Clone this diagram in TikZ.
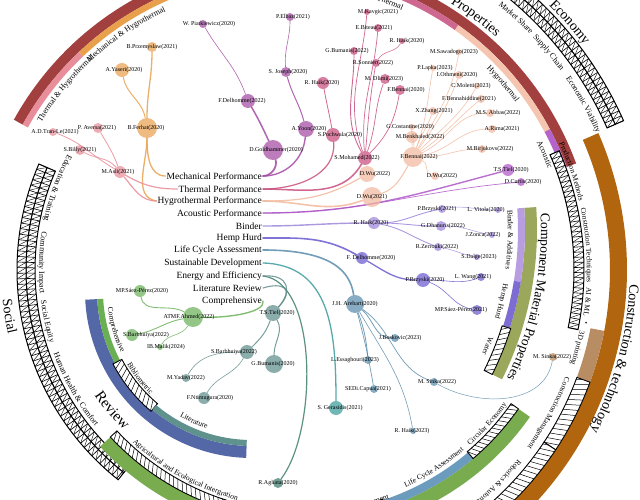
\documentclass[tikz,border=0pt]{standalone}
\usepackage{fontspec}
\setmainfont{Liberation Serif}
\usetikzlibrary{decorations.text}
\pgfdeclarelayer{bg}
\pgfsetlayers{bg,main}
% band colours
\definecolor{pMaroon}{HTML}{A1403E}
\definecolor{pTH}{HTML}{E88E9B}
\definecolor{pMH}{HTML}{E8A04C}
\definecolor{pMech}{HTML}{A8509F}
\definecolor{pTherm}{HTML}{CF6890}
\definecolor{pHyg}{HTML}{F5C5AF}
\definecolor{pAcou}{HTML}{B463CB}
\definecolor{cBrown}{HTML}{B0650E}
\definecolor{cTan}{HTML}{B98D64}
\definecolor{cOlive}{HTML}{9BA85C}
\definecolor{cBindB}{HTML}{B89EE0}
\definecolor{cHempB}{HTML}{7D6DD3}
\definecolor{rBlue}{HTML}{5467A6}
\definecolor{rGreen}{HTML}{6BAF55}
\definecolor{rTeal}{HTML}{5F918D}
\definecolor{eGreen}{HTML}{79AC4F}
\definecolor{eBlue}{HTML}{6B9CBE}
% tree colours
\definecolor{kMech}{HTML}{A44CA4}
\definecolor{kTherm}{HTML}{C94D7D}
\definecolor{kHyg}{HTML}{F2B99E}
\definecolor{kAcou}{HTML}{AF57C8}
\definecolor{kBind}{HTML}{9D86DA}
\definecolor{kHemp}{HTML}{6A5BCF}
\definecolor{kLca}{HTML}{5A8DAC}
\definecolor{kSus}{HTML}{3A9C9A}
\definecolor{kEner}{HTML}{3F7E6E}
\definecolor{kLit}{HTML}{5F8E8B}
\definecolor{kComp}{HTML}{6CB25A}
\definecolor{kMH}{HTML}{E9A24F}
\definecolor{kTH}{HTML}{E88D99}
\definecolor{kBrown}{HTML}{B8895C}
\tikzset{
  ndot/.style={circle,inner sep=0pt,draw=none,fill opacity=0.72},
  lab/.style={font=\fontsize{6}{6}\selectfont,inner sep=0pt,text=black},
  lst/.style={font=\fontsize{9.5}{10}\selectfont,inner sep=1pt,anchor=east,text=black},
  ed/.style={line cap=round,draw opacity=0.85},
}
\newcommand{\ann}[5][]{\path[#1] (#2:#5) arc[start angle=#2,end angle=#3,radius=#5] -- (#3:#4) arc[start angle=#3,end angle=#2,radius=#4] -- cycle;}
\newcommand{\hatchb}[5]{%
  \ann[fill=white]{#1}{#2}{#3}{#4}%
  \begin{scope}
    \clip (#1:#4) arc[start angle=#1,end angle=#2,radius=#4] -- (#2:#3) arc[start angle=#2,end angle=#1,radius=#3] -- cycle;
    \pgfmathsetmacro{\hlo}{min(#1,#2)-#5}%
    \pgfmathsetmacro{\hhi}{max(#1,#2)+#5}%
    \pgfmathsetmacro{\hnx}{\hlo+#5}%
    \foreach \hh in {\hlo,\hnx,...,\hhi}{\draw[line width=0.5pt] (\hh:#3) -- ({\hh+#5}:#4);}
  \end{scope}
  \ann[draw=black,line width=0.9pt]{#1}{#2}{#3}{#4}%
}
\newcommand{\ladder}[5]{%
  \ann[fill=white]{#1}{#2}{#3}{#4}%
  \begin{scope}
    \clip (#1:#4) arc[start angle=#1,end angle=#2,radius=#4] -- (#2:#3) arc[start angle=#2,end angle=#1,radius=#3] -- cycle;
    \pgfmathsetmacro{\hlo}{min(#1,#2)-#5}%
    \pgfmathsetmacro{\hhi}{max(#1,#2)+#5}%
    \pgfmathsetmacro{\hnx}{\hlo+#5}%
    \foreach \hh in {\hlo,\hnx,...,\hhi}{\draw[line width=0.6pt] (\hh:#3) -- (\hh:#4); \draw[line width=0.4pt] (\hh:#3) -- ({\hh+#5}:#4);}
  \end{scope}
  \ann[draw=black,line width=1pt]{#1}{#2}{#3}{#4}%
}
\newcommand{\arctext}[5]{\path[decorate,decoration={text along path,text align=center,text={|\fontsize{#4}{#4}\selectfont|#5}}] (#1:#3) arc[start angle=#1,end angle=#2,radius=#3];}
\newcommand{\nd}[7]{\node[ndot,fill=#5,minimum size=#4*2pt] (#1) at (#2,-#3) {}; \node[lab] (#1-t) at (#6,-#3) {#7};}

\begin{document}
\begin{tikzpicture}[x=1pt,y=1pt]
\useasboundingbox (0,0) rectangle (640,-500);
\begin{pgfonlayer}{bg}
\fill[white] (0,0) rectangle (640,-500);
\end{pgfonlayer}
\clip (0,0) rectangle (640,-500);

% ===== outer groups, centre (285,270) =====
\begin{scope}[shift={(285,-270)}]
  % Properties
  \ann[fill=pMaroon]{151}{20.1}{300}{310}
  \ann[fill=pTH]{151}{133.4}{294}{300}
  \ann[fill=pMH]{133.4}{105}{294}{300}
  \ann[fill=pMech]{105}{78}{294}{300}
  \ann[fill=pTherm]{78}{54.7}{294}{300}
  \ann[fill=pHyg]{54.7}{28}{294}{300}
  \ann[fill=pAcou]{28}{20.1}{294}{300}
  \arctext{153}{128}{285}{8}{Thermal {\&} Hygrothermal}
  \arctext{138}{110}{285}{8}{Mechanical {\&} Hygrothermal}
  \arctext{76}{61}{285}{8}{Thermal}
  \arctext{49}{32}{285}{8}{Hygrothermal}
  \arctext{31}{17}{282}{8}{Acoustic}
  \arctext{63}{43}{314}{14}{Properties}
  % Economy
  \ladder{75}{23.8}{352}{361}{0.85}
  \ladder{75}{23.8}{361}{370}{0.85}
  \arctext{55}{40}{340}{8}{Market Share}
  \arctext{47}{32}{340}{8}{Supply Chain}
  \arctext{38}{20}{340}{8}{Economic Viability}
  \arctext{49}{33}{374}{14}{Economy}
  % Construction & technology
  \ann[fill=cBrown]{23.6}{-80}{325}{342}
  \ladder{23.5}{-11.5}{289}{299}{1}
  \ann[fill=cTan]{-10.8}{-20.2}{311}{325}
  \hatchb{-20.2}{-33.6}{311}{325}{1}
  \hatchb{-33.6}{-80}{311}{325}{1}
  \arctext{30}{8}{302}{7.5}{Production Methods}
  \arctext{14.7}{-5.3}{302}{7.5}{Construction Techniques}
  \arctext{0}{-12}{302}{7.5}{AI {\&} ML}
  \node[font=\fontsize{7}{7}\selectfont,rotate=-100,inner sep=0pt] (bul) at (-10:305) {•};
  \arctext{-7.5}{-22.5}{301}{7.5}{3D printing}
  \arctext{-17}{-40}{300}{7.5}{Construction Management}
  \arctext{-34}{-58}{300}{7.5}{Robotics {\&} Automation}
  \arctext{3}{-33}{345}{14}{Construction {\&} technology}
  % Social
  \ladder{156.7}{231.5}{250}{259}{1.2}
  \ladder{156.7}{231.5}{259}{268}{1.2}
  \arctext{148}{172.6}{246}{8}{Education {\&} Training}
  \arctext{168}{188.6}{246}{8}{Community Impact}
  \arctext{184}{200.4}{246}{8}{Social Equity}
  \arctext{196}{223.4}{246}{8}{Human Health {\&} Comfort}
  \arctext{180}{199}{284}{14}{Social}
\end{scope}

% ===== Review, centre (252,291) =====
\begin{scope}[shift={(252,-291)}]
  \ann[fill=rBlue]{183}{268}{155}{167}
  \ann[fill=rGreen]{183}{207.7}{149}{155}
  \hatchb{207.7}{230}{147}{157}{2}
  \ann[fill=rTeal]{230}{268}{149}{155}
  \arctext{182}{210}{145}{7.5}{Comprehensive}
  \arctext{206}{230}{145}{7.5}{Bibliometric}
  \arctext{235}{257}{145}{7.5}{Literature}
  \arctext{208}{233}{189}{15}{Review}
\end{scope}

% ===== Component Material Properties, centre (200,230) =====
\begin{scope}[shift={(200,-230)}]
  \ann[fill=cOlive]{3.9}{-26.3}{325}{337}
  \ann[fill=cBindB]{3.9}{-9.2}{318}{325}
  \ann[fill=cHempB]{-9.2}{-17.6}{318}{325}
  \hatchb{-17.6}{-26.3}{317}{326}{1}
  \arctext{7}{-10.6}{308}{7.5}{Binder {\&} Additives}
  \arctext{-7}{-19.6}{308}{7.5}{Hemp Hurd}
  \arctext{-18}{-26}{308}{7.5}{Water}
  \arctext{8}{-31}{341}{13.5}{Component Material Properties}
\end{scope}

% ===== bottom group, centre (303,258) =====
\begin{scope}[shift={(303,-258)}]
  \ann[fill=eGreen]{222.9}{325}{263}{277}
  \hatchb{222.9}{262}{254}{263}{1.1}
  \hatchb{262}{288.3}{254}{263}{1.1}
  \ann[fill=eBlue]{288.3}{310.3}{255}{263}
  \hatchb{310.3}{325}{254}{263}{1.1}
  \arctext{218}{264}{251}{7.5}{Agricultural and Ecological Intergration}
  \arctext{270}{296}{256}{7.5}{Waste Management}
  \arctext{290}{314}{251}{7.5}{Life Cycle Assessment}
  \arctext{309}{327}{251}{7.5}{Circular Economy}
\end{scope}

% ===== central label list =====
\node[lst] (Lmech) at (263,-176) {Mechanical Performance};
\node[lst] (Ltherm) at (263,-189) {Thermal Performance};
\node[lst] (Lhyg) at (263,-201) {Hygrothermal Performance};
\node[lst] (Lacou) at (263,-213) {Acoustic Performance};
\node[lst] (Lbind) at (263,-226) {Binder};
\node[lst] (Lhemp) at (263,-238) {Hemp Hurd};
\node[lst] (Llca) at (263,-250) {Life Cycle Assessment};
\node[lst] (Lsus) at (263,-263) {Sustainable Development};
\node[lst] (Lener) at (263,-276) {Energy and Efficiency};
\node[lst] (Llit) at (263,-288) {Literature Review};
\node[lst] (Lcomp) at (263,-301) {Comprehensive};

% ===== tree nodes =====
\nd{Goldh}{273}{150}{10}{kMech}{276}{D.Goldhammer(2020)}
\nd{FDelA}{248}{101}{7}{kMech}{242}{F.Delhomme(2022)}
\nd{Piat}{203}{24}{4}{kMech}{209}{W. Piatkiewicz(2020)}
\nd{Yoon}{306}{129}{8}{kMech}{309}{A.Yoon(2020)}
\nd{Joseph}{286}{72}{5}{kMech}{288}{S. Joseph(2020)}
\nd{Elbaz}{290}{17}{4}{kMech}{293}{P.Elbaz(2021)}
\nd{SMoh}{365}{158}{7}{kTherm}{357}{S.Mohamed(2022)}
\nd{Pochw}{333}{135}{7}{kTherm}{340}{S.Pochwala(2020)}
\nd{RHaikA}{323}{83}{6}{kTherm}{322}{R. Haik(2020)}
\nd{BumA}{354}{51}{4}{kTherm}{347}{G.Bumanis(2022)}
\nd{Kavgic}{367}{12}{3}{kTherm}{378}{M.Kavgic(2021)}
\nd{Biteau}{378}{28}{4}{kTherm}{374}{E.Biteau(2021)}
\nd{RHaikB}{402}{41}{3}{kTherm}{407}{R. Haik(2020)}
\nd{Sonnier}{376}{63}{4}{kTherm}{373}{R.Sonnier(2022)}
\nd{Dlimi}{385}{79}{5}{kTherm}{384}{M. Dlimi(2023)}
\nd{BennaiA}{400}{90}{5}{kTherm}{406}{F.Bennai(2020)}
\nd{Costan}{412}{127}{3}{kHyg}{410}{G.Costantine(2020)}
\nd{Benkh}{412}{137}{6}{kHyg}{420}{M.Benkhaled(2022)}
\nd{BennaiB}{413}{157}{10}{kHyg}{419}{F.Bennai(2022)}
\nd{Sawad}{459}{52}{3}{kHyg}{454}{M.Sawadogo(2023)}
\nd{Lapka}{433}{68}{3}{kHyg}{435}{P.Lapka(2023)}
\nd{Othm}{459}{75}{4}{kHyg}{457}{I.Othmeni(2020)}
\nd{Molet}{477}{86}{3}{kHyg}{471}{C.Moletti(2023)}
\nd{Bennah}{481}{99}{4}{kHyg}{469}{F.Bennahiddine(2021)}
\nd{Zhang}{433}{111}{4}{kHyg}{434}{X.Zhang(2021)}
\nd{Abbas}{490}{113}{4}{kHyg}{498}{M.S. Abbas(2022)}
\nd{Rima}{492}{129}{4}{kHyg}{502}{A.Rima(2021)}
\nd{Birj}{482}{149}{4}{kHyg}{490}{M.Birjukovs(2022)}
\nd{WuA}{367}{174}{8}{kHyg}{375}{D.Wu(2022)}
\nd{WuB}{435}{176}{4}{kHyg}{442}{D.Wu(2022)}
\nd{WuC}{372}{197}{10}{kHyg}{372}{D.Wu(2021)}
\nd{TielA}{508}{170}{6}{kAcou}{511}{T.S.Tiel(2020)}
\nd{Curtis}{521}{182}{4}{kAcou}{523}{D.Curtis(2020)}
\nd{HaikC}{374}{223}{6}{kBind}{371}{R. Haik(2020)}
\nd{BrzA}{442}{209}{4}{kBind}{437}{P.Brzyski(2021)}
\nd{Vitola}{498}{210}{3}{kBind}{486}{L. Vitola(2020)}
\nd{Dhan}{441}{226}{5}{kBind}{443}{G.Dhanuris(2022)}
\nd{Zonca}{492}{235}{3}{kBind}{483}{J.Zonca(2022)}
\nd{Zerr}{438}{247}{4}{kBind}{437}{R.Zerrouki(2022)}
\nd{Dalge}{477}{257}{3}{kBind}{479}{S.Dalge(2023)}
\nd{FDelB}{362}{258}{6}{kHemp}{371}{F. Delhomme(2020)}
\nd{BrzB}{423}{280}{7}{kHemp}{425}{P.Brzyski(2020)}
\nd{Wang}{481}{277}{4}{kHemp}{473}{L. Wang(2021)}
\nd{SaezB}{477}{310}{5}{kHemp}{461}{MP.Sáez-Pérez(2021)}
\nd{Arehart}{355}{304}{9}{kLca}{355}{J.H. Arehart(2020)}
\nd{Bosk}{395}{338}{4}{kLca}{400}{J.Boskovic(2023)}
\nd{Essag}{368}{360}{4}{kLca}{355}{L.Essaghouri(2023)}
\nd{Capua}{374}{389}{4}{kLca}{368}{SEDi.Capua(2021)}
\nd{SinkaA}{434}{382}{4}{kLca}{437}{M. Sinka(2022)}
\nd{HaikD}{413}{431}{3}{kLca}{412}{R. Haik(2023)}
\nd{SinkaB}{553}{357}{4}{kBrown}{552}{M. Sinka(2022)}
\nd{Geras}{336}{408}{7}{kSus}{340}{S. Gerasidis(2021)}
\nd{Agliata}{278}{483}{5}{kEner}{278}{R.Agliata(2020)}
\nd{TielB}{273}{313}{8}{kLit}{277}{T.S.Tiel(2020)}
\nd{BumB}{274}{364}{9}{kLit}{273}{G.Bumanis(2020)}
\nd{BarbA}{247}{352}{7}{kLit}{234}{S.Barbhuiya(2022)}
\nd{Yadav}{186}{378}{4}{kLit}{186}{M.Yadav(2022)}
\nd{Ntim}{204}{398}{6}{kLit}{210}{F.Ntimugura(2020)}
\nd{SaezA}{140}{291}{6}{kComp}{142}{MP.Sáez-Pérez(2020)}
\nd{Ahmed}{193}{317}{10}{kComp}{189}{ATMF.Ahmed(2022)}
\nd{BarbB}{132}{335}{6}{kComp}{146}{S.Barbhuiya(2022)}
\nd{Malik}{160}{347}{3}{kComp}{166}{IB.Malik(2024)}
\nd{Przem}{152}{47}{5}{kMH}{152}{B.Przemyslaw(2021)}
\nd{Yaseri}{122}{70}{7}{kMH}{124}{A.Yaseri(2020)}
\nd{Ferhat}{147}{128}{10}{kMH}{146}{B.Ferhat(2020)}
\nd{Aversa}{98}{128}{5}{kTH}{97}{P. Aversa(2021)}
\nd{TranLe}{53}{132}{4}{kTH}{55}{A.D.Tran-Le(2021)}
\nd{Billy}{80}{150}{5}{kTH}{80}{S.Billy(2021)}
\nd{Asli}{120}{172}{6}{kTH}{118}{M.Asli(2021)}

% ===== connectors =====
\begin{pgfonlayer}{bg}
% mechanical
\draw[ed,kMech,line width=1.8pt] (Lmech.east) to[out=0,in=-75] (Goldh);
\draw[ed,kMech,line width=1.5pt] (Goldh) to[out=115,in=-60] (FDelA);
\draw[ed,kMech,line width=0.6pt] (FDelA) to[out=110,in=-60] (Piat);
\draw[ed,kMech,line width=1.4pt] (Lmech.east) to[out=0,in=-95] (Yoon);
\draw[ed,kMech,line width=1.0pt] (Yoon) to[out=105,in=-75] (Joseph);
\draw[ed,kMech,line width=0.6pt] (Joseph) to[out=95,in=-90] (Elbaz);
% thermal
\draw[ed,kTherm,line width=1.5pt] (Ltherm.east) to[out=0,in=-120] (SMoh);
\draw[ed,kTherm,line width=1.2pt] (Ltherm.east) to[out=0,in=-85] (Pochw);
\draw[ed,kTherm,line width=0.8pt] (Pochw) to[out=100,in=-80] (RHaikA);
\draw[ed,kTherm,line width=0.9pt] (SMoh) to[out=120,in=-90] (BumA);
\draw[ed,kTherm,line width=0.7pt] (SMoh) to[out=110,in=-95] (Kavgic);
\draw[ed,kTherm,line width=0.7pt] (SMoh) to[out=95,in=-95] (Biteau);
\draw[ed,kTherm,line width=0.7pt] (SMoh) to[out=85,in=-100] (Sonnier);
\draw[ed,kTherm,line width=0.7pt] (SMoh) to[out=70,in=-110] (Dlimi);
\draw[ed,kTherm,line width=0.7pt] (SMoh) to[out=45,in=-100] (BennaiA);
\draw[ed,kTherm,line width=0.5pt] (Sonnier) to[out=60,in=-120] (RHaikB);
% hygrothermal
\draw[ed,kHyg,line width=1.6pt] (Lhyg.east) to[out=0,in=200] (WuC);
\draw[ed,kHyg,line width=1.2pt] (Lhyg.east) to[out=0,in=210] (WuA);
\draw[ed,kHyg,line width=1.0pt] (WuC) to[out=20,in=-120] (BennaiB);
\draw[ed,kHyg,line width=0.6pt] (BennaiB) to[out=95,in=-90] (Benkh);
\draw[ed,kHyg,line width=0.6pt] (BennaiB) to[out=85,in=-95] (Costan);
\draw[ed,kHyg,line width=0.6pt] (BennaiB) to[out=70,in=-110] (Zhang);
\draw[ed,kHyg,line width=0.6pt] (BennaiB) to[out=70,in=-100] (Lapka);
\draw[ed,kHyg,line width=0.6pt] (BennaiB) to[out=55,in=-110] (Othm);
\draw[ed,kHyg,line width=0.6pt] (BennaiB) to[out=60,in=-100] (Sawad);
\draw[ed,kHyg,line width=0.6pt] (BennaiB) to[out=45,in=-120] (Molet);
\draw[ed,kHyg,line width=0.6pt] (BennaiB) to[out=35,in=-140] (Bennah);
\draw[ed,kHyg,line width=0.6pt] (BennaiB) to[out=25,in=180] (Abbas);
\draw[ed,kHyg,line width=0.6pt] (BennaiB) to[out=10,in=180] (Rima);
\draw[ed,kHyg,line width=0.6pt] (BennaiB) to[out=0,in=180] (Birj);
\draw[ed,kHyg,line width=0.6pt] (BennaiB) to[out=-20,in=170] (WuB);
% acoustic
\draw[ed,kAcou,line width=1.4pt] (Lacou.east) to[out=0,in=195] (TielA);
\draw[ed,kAcou,line width=0.7pt] (Lacou.east) to[out=0,in=185] (Curtis);
% binder
\draw[ed,kBind,line width=1.4pt] (Lbind.east) to[out=0,in=180] (HaikC);
\draw[ed,kBind,line width=0.9pt] (HaikC) to[out=0,in=190] (BrzA);
\draw[ed,kBind,line width=0.5pt] (BrzA) to[out=10,in=180] (Vitola);
\draw[ed,kBind,line width=0.9pt] (HaikC) to[out=0,in=180] (Dhan);
\draw[ed,kBind,line width=0.5pt] (Dhan) to[out=0,in=170] (Zonca);
\draw[ed,kBind,line width=0.9pt] (HaikC) to[out=-10,in=160] (Zerr);
\draw[ed,kBind,line width=0.5pt] (Zerr) to[out=-10,in=170] (Dalge);
% hemp hurd
\draw[ed,kHemp,line width=1.6pt] (Lhemp.east) to[out=0,in=150] (FDelB);
\draw[ed,kHemp,line width=1.3pt] (FDelB) to[out=-30,in=180] (BrzB);
\draw[ed,kHemp,line width=0.6pt] (BrzB) to[out=0,in=200] (Wang);
\draw[ed,kHemp,line width=0.6pt] (BrzB) to[out=-20,in=170] (SaezB);
% life cycle assessment
\draw[ed,kLca,line width=1.6pt] (Llca.east) .. controls (330,-250) and (350,-270) .. (Arehart);
\draw[ed,kLca,line width=0.8pt] (Arehart) to[out=-40,in=180] (Bosk);
\draw[ed,kLca,line width=0.8pt] (Arehart) to[out=-70,in=95] (Essag);
\draw[ed,kLca,line width=0.7pt] (Arehart) to[out=-75,in=100] (Capua);
\draw[ed,kLca,line width=0.7pt] (Arehart) to[out=-35,in=160] (SinkaA);
\draw[ed,kLca,line width=0.6pt] (Arehart) to[out=-60,in=100] (HaikD);
\draw[ed,kLca,line width=0.5pt] (SinkaA) to[out=-30,in=-100] (SinkaB);
% sustainable development / energy
\draw[ed,kSus,line width=1.3pt] (Lsus.east) .. controls (330,-265) and (336,-330) .. (Geras);
\draw[ed,kEner,line width=1.2pt] (Lener.east) .. controls (318,-282) and (318,-430) .. (Agliata);
\draw[ed,kLit,line width=1.1pt] (Lener.east) .. controls (290,-274) and (292,-292) .. (TielB);
\draw[ed,kLit,line width=1.1pt] (Llit.east) .. controls (282,-282) and (296,-288) .. (TielB);
\draw[ed,kLit,line width=1.0pt] (TielB) to[out=-110,in=45] (BarbA);
\draw[ed,kLit,line width=1.0pt] (TielB) to[out=-60,in=90] (BumB);
\draw[ed,kLit,line width=0.6pt] (BarbA) to[out=180,in=60] (Yadav);
\draw[ed,kLit,line width=0.6pt] (BarbA) to[out=-120,in=60] (Ntim);
% comprehensive
\draw[ed,kComp,line width=1.4pt] (Lcomp.east) .. controls (266,-312) and (230,-318) .. (Ahmed);
\draw[ed,kComp,line width=0.9pt] (Ahmed) to[out=150,in=-80] (SaezA);
\draw[ed,kComp,line width=0.9pt] (Ahmed) to[out=-170,in=10] (BarbB);
\draw[ed,kComp,line width=0.6pt] (Ahmed) to[out=-120,in=60] (Malik);
% mechanical & hygrothermal
\draw[ed,kMH,line width=1.3pt] (Ferhat) to[out=90,in=-90] (Przem);
\draw[ed,kMH,line width=1.0pt] (Ferhat) to[out=100,in=-80] (Yaseri);
\draw[ed,kMH,line width=1.3pt] (Ferhat) to[out=-90,in=180] (Lmech.west);
\draw[ed,kMH,line width=1.3pt] (Ferhat) to[out=-90,in=170] (Lhyg.west);
% thermal & hygrothermal
\draw[ed,kTH,line width=0.8pt] (Asli) to[out=110,in=-60] (Aversa);
\draw[ed,kTH,line width=0.8pt] (Asli) to[out=150,in=-20] (TranLe);
\draw[ed,kTH,line width=0.8pt] (Asli) to[out=130,in=-30] (Billy);
\draw[ed,kTH,line width=1.2pt] (Asli) to[out=-30,in=180] (Ltherm.west);
\draw[ed,kTH,line width=1.2pt] (Asli) to[out=-50,in=180] (Lhyg.west);
\end{pgfonlayer}
\end{tikzpicture}
\end{document}
